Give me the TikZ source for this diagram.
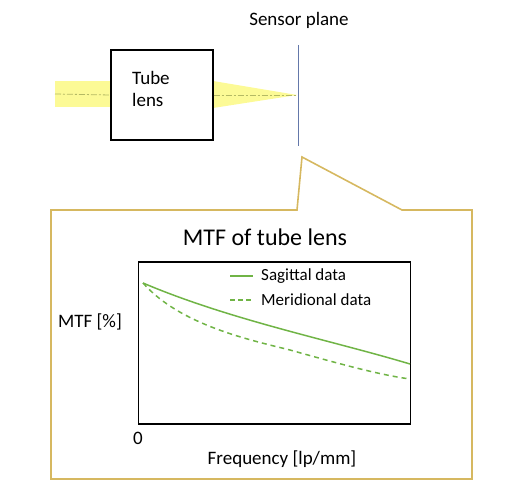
\documentclass[tikz,border=0pt]{standalone}
\usepackage{fontspec}
\setmainfont{Carlito}
\begin{document}
\begin{tikzpicture}[x=1pt,y=-1pt,
  lbl/.style={inner sep=0pt,font=\fontsize{19}{22}\selectfont},
  leg/.style={inner sep=0pt,anchor=west,font=\fontsize{17}{20}\selectfont},
  callout/.style={draw=gold,line width=1.6pt,line join=miter},
  curve/.style={draw=mtfgreen,line width=1.5pt}]
\definecolor{beam}{RGB}{252,250,150}
\definecolor{gold}{RGB}{214,184,96}
\definecolor{mtfgreen}{RGB}{112,180,70}
\definecolor{sensor}{RGB}{100,120,170}
\definecolor{axisc}{RGB}{180,185,100}
\useasboundingbox (0,0) rectangle (520,500);
% beams
\fill[beam] (55,81) rectangle (111,107);
\fill[beam] (213,81) -- (297,95) -- (213,108) -- cycle;
% tube lens box
\node[draw=black,line width=1.3pt,minimum width=102pt,minimum height=90pt,inner sep=0pt] (tube) at (162,95) {};
\node[lbl,align=left,anchor=west] (tubetxt) at (132,89) {Tube\\lens};
% optical axis
\coordinate (axL) at (55,94);
\coordinate (axR) at (297,95);
\draw[axisc,line width=0.8pt,dash pattern=on 6pt off 2pt on 2pt off 2pt] (axL) -- (tube.west);
\draw[axisc,line width=0.8pt,dash pattern=on 6pt off 2pt on 2pt off 2pt] (tube.east |- axR) -- (axR);
% sensor plane
\coordinate (sT) at (298,45);
\coordinate (sB) at (298,146);
\draw[sensor,line width=0.9pt] (sT) -- (sB);
\node[lbl] (sensortxt) at (299,20) {Sensor plane};
% callout
\draw[callout] (297,210) -- (302,157) -- (402,210) -- (472,210) -- (472,479) -- (51,479) -- (51,210) -- cycle;
\node[inner sep=0pt,font=\fontsize{24}{28}\selectfont] (title) at (265,237) {MTF of tube lens};
% plot box
\node[draw=black,line width=1.3pt,minimum width=272pt,minimum height=162pt,inner sep=0pt] (plot) at (274.5,343) {};
\node[lbl] (ylab) at (90,322) {MTF [\%]};
\node[lbl] (zero) at (138,438) {0};
\node[lbl] (xlab) at (282,459) {Frequency [lp/mm]};
% legend
\coordinate (l1a) at (230,276); \coordinate (l1b) at (253,276);
\coordinate (l2a) at (230,300); \coordinate (l2b) at (253,300);
\draw[curve] (l1a) -- (l1b);
\draw[curve,dash pattern=on 5pt off 3pt] (l2a) -- (l2b);
\node[leg] (sag) at (261,276) {Sagittal data};
\node[leg] (mer) at (261,300) {Meridional data};
% curves
\draw[curve] (143,283) .. controls (230,320) and (330,340) .. (410,364);
\draw[curve,dash pattern=on 5pt off 4pt] (143,283) .. controls (180,325) and (250,340) .. (290,350) .. controls (340,364) and (380,375) .. (410,379);
\end{tikzpicture}
\end{document}
